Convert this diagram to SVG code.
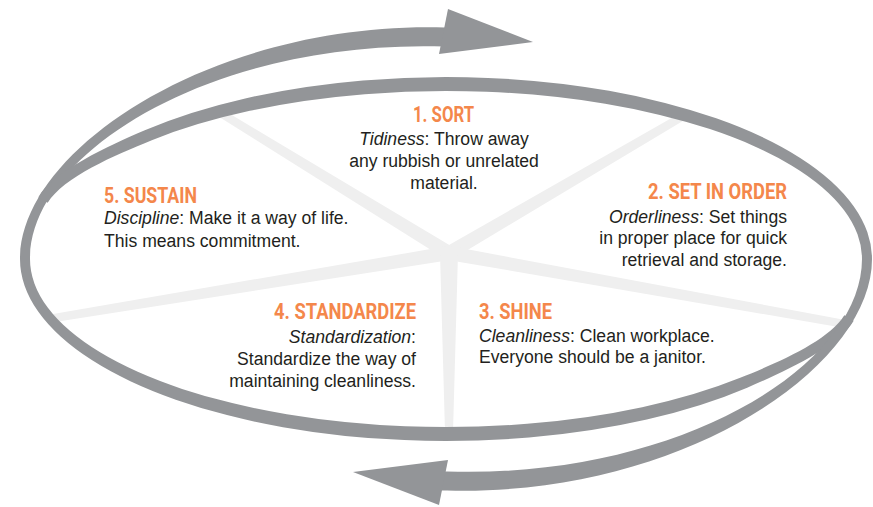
<svg xmlns="http://www.w3.org/2000/svg" width="873" height="507" viewBox="0 0 873 507">
<style>
.ring{fill:#939598}
.spoke{fill:#efefef}
.h{font-family:Roboto,'Liberation Sans',sans-serif;font-weight:700;font-size:22px;fill:#f4874b}
.b{font-family:'Liberation Sans',Arial,sans-serif;font-size:17.6px;fill:#231f20}
</style>
<rect width="873" height="507" fill="#ffffff"/>
<g id="spokes">
<polygon class="spoke" points="452.66,247.03 221.09,108.59 216.91,115.41 445.34,258.97"/>
<polygon class="spoke" points="452.53,259.04 687.02,118.45 682.98,111.55 445.47,246.96"/>
<polygon class="spoke" points="447.86,246.09 47.35,315.05 48.65,322.95 450.14,259.91"/>
<polygon class="spoke" points="447.76,259.89 841.29,327.44 842.71,319.56 450.24,246.11"/>
<polygon class="spoke" points="440,253 458,253 453,432 445,432"/>
</g>
<g id="connectors">
<path id="arc-upper" class="ring" d="M853.7,320.8 C838.55,346.7 784,372 747.2,387.7 A426 182 0 0 1 20,259 C20,149 214,21 445,27.5 L445,46.5 C216,39 30,151 30,259 A416 168 0 0 0 740.2,377.8 C777.3,362.8 828.6,340.9 844.3,315.2 Z"/>
<polygon class="ring" points="448,9 533,42 439,54"/>
<path id="arc-lower" class="ring" d="M38.3,197.2 C53.45,171.3 108,146 144.8,130.3 A426 182 0 0 1 872,259 C872,369 678,497 447,490.5 L440,490.5 L440,471.5 L447,471.5 C676,479 862,367 862,259 A416 168 0 0 0 151.8,140.2 C114.7,155.2 63.4,177.1 47.7,202.8 Z"/>
<polygon class="ring" points="448,460 353,472 439,505"/>
</g>
<g id="sort" text-anchor="middle">
<text class="h" x="443.5" y="122" textLength="61" lengthAdjust="spacingAndGlyphs">1. SORT</text>
<text class="b" x="444" y="145"><tspan font-style="italic">Tidiness</tspan>: Throw away</text>
<text class="b" x="444" y="167">any rubbish or unrelated</text>
<text class="b" x="444" y="189">material.</text>
</g>
<g id="set-in-order" text-anchor="end">
<text class="h" x="787" y="199.3" textLength="139" lengthAdjust="spacingAndGlyphs">2. SET IN ORDER</text>
<text class="b" x="787" y="222.7"><tspan font-style="italic">Orderliness</tspan>: Set things</text>
<text class="b" x="787" y="244">in proper place for quick</text>
<text class="b" x="787" y="265.5">retrieval and storage.</text>
</g>
<g id="shine">
<text class="h" x="479" y="319.3" textLength="73" lengthAdjust="spacingAndGlyphs">3. SHINE</text>
<text class="b" x="479" y="341.7"><tspan font-style="italic">Cleanliness</tspan>: Clean workplace.</text>
<text class="b" x="479" y="363.3">Everyone should be a janitor.</text>
</g>
<g id="standardize" text-anchor="end">
<text class="h" x="416" y="319" textLength="142" lengthAdjust="spacingAndGlyphs">4. STANDARDIZE</text>
<text class="b" x="416" y="342.7"><tspan font-style="italic">Standardization</tspan>:</text>
<text class="b" x="416" y="364.7">Standardize the way of</text>
<text class="b" x="416" y="386.7">maintaining cleanliness.</text>
</g>
<g id="sustain">
<text class="h" x="104" y="202.7" textLength="93" lengthAdjust="spacingAndGlyphs">5. SUSTAIN</text>
<text class="b" x="104" y="224.3"><tspan font-style="italic">Discipline</tspan>: Make it a way of life.</text>
<text class="b" x="104" y="246.7">This means commitment.</text>
</g>
</svg>
